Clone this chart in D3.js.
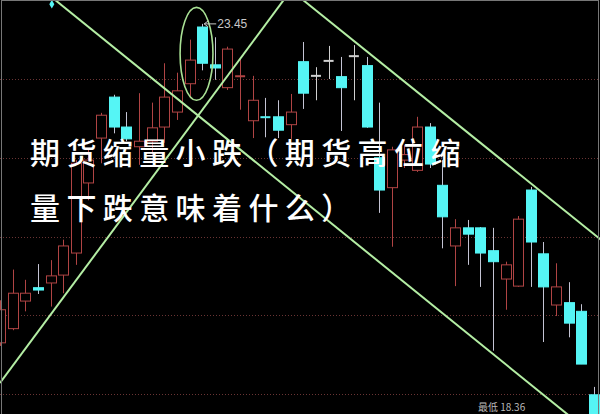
<!DOCTYPE html>
<html>
<head>
<meta charset="utf-8">
<script src="https://cdn.jsdelivr.net/npm/d3@7"></script>
<style>
  html, body { margin: 0; padding: 0; background: #000; }
  svg { display: block; }
</style>
</head>
<body>
<script>
// daily candles (index 0 is cut by the left edge)
var open  = [19.40, 19.58, 19.93, 20.10, 20.16, 20.26, 20.54, 21.43, 22.00, 22.52,
             22.14, 21.89, 21.96, 22.14, 22.33, 22.69, 23.41, 22.93, 22.64, 22.78,
             22.22, 22.27, 22.27, 22.17, 22.97, 22.79, 22.98, 22.78, 23.04, 22.92,
             21.75, 21.37, 21.72, 21.59, 22.14, 21.40, 20.63, 20.86, 20.86, 20.57,
             20.21, 20.12, 21.34, 20.53, 19.88, 19.91, 19.80, 18.74];
var close = [19.82, 20.03, 20.03, 20.07, 20.25, 20.63, 21.68, 21.72, 22.29, 22.14,
             21.99, 21.96, 22.13, 22.52, 22.60, 22.99, 22.95, 22.89, 23.13, 22.79,
             22.48, 22.26, 22.10, 22.33, 22.57, 22.79, 22.98, 22.64, 23.04, 22.14,
             21.34, 21.85, 21.79, 22.14, 21.67, 21.00, 20.86, 20.78, 20.54, 20.43,
             20.39, 20.97, 20.68, 20.11, 20.11, 19.65, 19.13, 18.42];
var high  = [19.94, 20.33, 20.20, 20.40, 20.45, 20.71, 21.72, 21.85, 22.32, 22.55,
             22.33, 22.57, 22.45, 22.95, 22.83, 23.25, 23.45, 23.28, 23.16, 23.02,
             22.79, 22.51, 22.48, 22.56, 23.22, 22.90, 23.17, 23.03, 23.18, 23.03,
             22.45, 21.89, 21.91, 22.27, 22.19, 21.72, 20.97, 20.96, 20.87, 20.86,
             20.43, 21.01, 21.38, 20.68, 20.41, 20.17, 19.89, 18.84];
var low   = [19.36, 19.56, 19.80, 20.02, 19.86, 20.03, 20.39, 21.21, 21.68, 22.06,
             21.96, 21.66, 21.79, 21.94, 22.23, 22.52, 22.86, 22.74, 22.61, 22.36,
             22.00, 22.01, 22.00, 21.99, 22.37, 22.48, 22.75, 22.09, 22.48, 22.13,
             21.05, 20.62, 21.62, 21.57, 21.62, 20.60, 20.12, 20.39, 20.11, 19.30,
             19.82, 20.11, 20.11, 19.41, 19.74, 19.47, 19.13, 18.36];

var gridPrices = [22.75, 21.75, 20.75, 19.75, 18.75];

// trend lines drawn on the chart, as [index, price] pairs
var lineA = [[0, 24.32], [48, 18.09]];
var lineB = [[0, 18.89], [24, 24.09]];
var lineC = [[24, 23.75], [48, 20.65]];

var peakIndex = 16;
var peakLabel = "23.45";
var bottomLabel = "最低 18.36";
var titleLines = ["期货缩量小跌（期货高位缩", "量下跌意味着什么）"];

var W = 600, H = 414;
var cyan = "#55f5f5", red = "#b04444", flat = "#d0d0d0", wickDown = "#c4c4d4";
var green = "#b4eea4";

var svg = d3.select("body")
    .append("svg")
    .attr("width", W)
    .attr("height", H);

svg.append("rect").attr("width", W).attr("height", H).attr("fill", "#000");

var x = d3.scaleLinear().domain([0, 47]).range([0, 594]);
var y = d3.scaleLinear().domain([18.75, 22.75]).range([394, 79]);
var bw = 10;

// dotted grid
svg.append("g")
    .selectAll("line")
    .data(gridPrices)
    .enter()
    .append("line")
    .attr("x1", 0)
    .attr("x2", W)
    .attr("y1", d => Math.round(y(d)) + 0.5)
    .attr("y2", d => Math.round(y(d)) + 0.5)
    .attr("stroke", "#6a3434")
    .attr("stroke-dasharray", "1,2");

var candles = d3.range(open.length).map(i => ({
    i: i, o: open[i], c: close[i], h: high[i], l: low[i]
}));

function colorOf(d) {
    if (d.c > d.o) return red;
    if (d.c < d.o) return cyan;
    return flat;
}

var g = svg.append("g");

// wicks
g.selectAll("line.wick")
    .data(candles)
    .enter()
    .append("line")
    .attr("class", "wick")
    .attr("x1", d => Math.round(x(d.i)) + 0.5)
    .attr("x2", d => Math.round(x(d.i)) + 0.5)
    .attr("y1", d => y(d.h))
    .attr("y2", d => y(d.l))
    .attr("stroke", d => d.c > d.o ? red : (d.c < d.o ? wickDown : flat))
    .attr("stroke-width", 1);

// bodies
g.selectAll("rect.body")
    .data(candles.filter(d => Math.abs(y(d.o) - y(d.c)) >= 2))
    .enter()
    .append("rect")
    .attr("class", "body")
    .attr("x", d => Math.round(x(d.i) - bw / 2) + 0.5)
    .attr("y", d => y(Math.max(d.o, d.c)))
    .attr("width", bw)
    .attr("height", d => Math.abs(y(d.o) - y(d.c)))
    .attr("fill", d => d.c > d.o ? "#000" : cyan)
    .attr("stroke", d => colorOf(d))
    .attr("stroke-width", 1);

// doji crosses
g.selectAll("line.doji")
    .data(candles.filter(d => Math.abs(y(d.o) - y(d.c)) < 2))
    .enter()
    .append("line")
    .attr("class", "doji")
    .attr("x1", d => x(d.i) - bw / 2)
    .attr("x2", d => x(d.i) + bw / 2)
    .attr("y1", d => y((d.o + d.c) / 2))
    .attr("y2", d => y((d.o + d.c) / 2))
    .attr("stroke", d => colorOf(d))
    .attr("stroke-width", 2);

// trend lines
var line = d3.line().x(d => x(d[0])).y(d => y(d[1]));
svg.append("g")
    .selectAll("path")
    .data([lineA, lineB, lineC])
    .enter()
    .append("path")
    .attr("d", line)
    .attr("fill", "none")
    .attr("stroke", green)
    .attr("stroke-width", 2);

// ring round the top
svg.append("ellipse")
    .attr("cx", x(peakIndex - 0.45))
    .attr("cy", y(23.07))
    .attr("rx", x(1.3) - x(0))
    .attr("ry", y(22.48) - y(23.07))
    .attr("fill", "none")
    .attr("stroke", "#a8e094")
    .attr("stroke-width", 1.6);

// peak label with arrow
var px = x(peakIndex) + 2, py = y(high[peakIndex]);
svg.append("path")
    .attr("d", `M${px + 12},${py}L${px},${py}M${px + 4},${py - 3}L${px},${py}L${px + 4},${py + 3}`)
    .attr("fill", "none")
    .attr("stroke", "#c8c8c8")
    .attr("stroke-width", 1);
svg.append("text")
    .attr("x", px + 13)
    .attr("y", py + 4)
    .attr("fill", "#c8c8c8")
    .attr("font-family", "Liberation Sans, Arial, sans-serif")
    .attr("font-size", 12)
    .text(peakLabel);

// small marker at top left
svg.append("path")
    .attr("d", d3.symbol().type(d3.symbolDiamond).size(22)())
    .attr("transform", `translate(${x(4.1)},${y(23.70)})`)
    .attr("fill", cyan);

// bottom readout
svg.append("text")
    .attr("x", 478)
    .attr("y", 411)
    .attr("fill", "#bbbbbb")
    .attr("font-family", "Noto Sans CJK SC, sans-serif")
    .attr("font-size", 10)
    .text(bottomLabel);

// frame
svg.append("rect")
    .attr("x", 1.5).attr("y", 0.5)
    .attr("width", 597).attr("height", H + 5)
    .attr("fill", "none")
    .attr("stroke", "#777")
    .attr("stroke-width", 1);

// title overlay
svg.append("g")
    .selectAll("text")
    .data(titleLines)
    .enter()
    .append("text")
    .attr("x", 30)
    .attr("y", (d, i) => 151 + i * 55)
    .attr("dominant-baseline", "central")
    .attr("fill", "#fff")
    .attr("font-family", "Noto Sans CJK SC, sans-serif")
    .attr("font-size", 30)
    .attr("font-weight", 500)
    .style("letter-spacing", "6.4px")
    .text(d => d);
</script>
</body>
</html>
